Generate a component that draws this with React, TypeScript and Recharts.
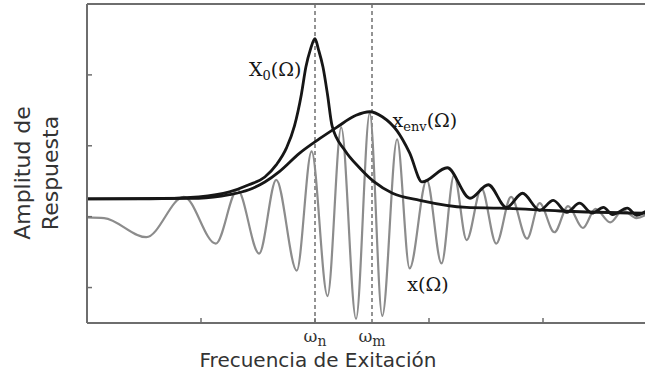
import { ComposedChart, Line, XAxis, YAxis, ReferenceLine, ReferenceDot, Label } from 'recharts';

// x(Ω) – respuesta total (curva gris)
const respOmega = [0, 0.15, 0.52, 0.85, 1.13, 1.32, 1.51, 1.66, 1.84, 1.97, 2.11, 2.23, 2.36, 2.48, 2.59, 2.72, 2.83, 2.98, 3.11, 3.22, 3.33, 3.46, 3.59, 3.72, 3.86, 3.97, 4.1, 4.22, 4.35, 4.46, 4.59, 4.7, 4.82, 4.94];
const respAmp = [0.99, 0.98, 0.71, 1.28, 0.62, 1.38, 0.48, 1.52, 0.24, 1.92, -0.12, 2.26, -0.44, 2.46, -0.4, 2.09, 0.27, 1.52, 0.34, 1.59, 0.67, 1.4, 0.62, 1.28, 0.69, 1.19, 0.78, 1.15, 0.84, 1.11, 0.92, 1.09, 0.98, 1.06];

// X0(Ω) – resonancia
const peakOmega = [0, 0.55, 0.98, 1.25, 1.42, 1.56, 1.66, 1.75, 1.82, 1.88, 1.92, 1.96, 2.0, 2.03, 2.07, 2.11, 2.15, 2.26, 2.39, 2.52, 2.68, 2.92, 3.33, 3.62, 4.15, 4.9, 5.0];
const peakAmp = [1.25, 1.25, 1.28, 1.35, 1.45, 1.56, 1.73, 1.97, 2.28, 2.72, 3.11, 3.36, 3.51, 3.36, 3.11, 2.72, 2.28, 1.94, 1.69, 1.49, 1.33, 1.23, 1.13, 1.12, 1.08, 1.05, 1.05];

// xenv(Ω) – envolvente
const envOmega = [0, 0.98, 1.25, 1.42, 1.56, 1.69, 1.86, 2.04, 2.19, 2.36, 2.48, 2.59, 2.72, 2.83, 2.94, 3.16, 3.36, 3.52, 3.68, 3.82, 3.97, 4.09, 4.21, 4.32, 4.43, 4.53, 4.61, 4.74, 4.82, 4.94, 5.0];
const envAmp = [1.25, 1.26, 1.31, 1.38, 1.49, 1.64, 1.89, 2.1, 2.26, 2.43, 2.48, 2.41, 2.21, 1.9, 1.49, 1.69, 1.26, 1.45, 1.13, 1.33, 1.09, 1.23, 1.06, 1.19, 1.05, 1.13, 1.03, 1.12, 1.02, 1.09, 1.06];

const xTicks = [1, 2, 3, 4];
const yTicks = [0, 1, 2, 3];
const markerOmega = [2.0, 2.5];
const markerSub = ['n', 'm'];

const toPoints = (w: number[], a: number[]) => w.map((v, i) => ({ w: v, a: a[i] }));
const respData = toPoints(respOmega, respAmp);
const peakData = toPoints(peakOmega, peakAmp);
const envData = toPoints(envOmega, envAmp);

const SERIF = '"DejaVu Serif", "Liberation Serif", serif';
const SANS = '"DejaVu Sans", sans-serif';
const AXIS = '#6e6e6e';
const INK = '#161616';
const noLabel = () => '';

const markerLabel = (i: number) => (props: any) => {
  const { x, y, height } = props.viewBox;
  return (
    <text x={x} y={y + height + 19} textAnchor="middle" fontFamily={SERIF} fontSize={17} fill="#333">
      ω
      <tspan dy={4} fontSize={14}>{markerSub[i]}</tspan>
    </text>
  );
};

const renderXTitle = () => (
  <text x={318} y={367} textAnchor="middle" fontFamily={SANS} fontSize={20} fill="#333">
    Frecuencia de Exitación
  </text>
);

const renderYTitle = () => (
  <g fontFamily={SANS} fontSize={22} fill="#333">
    <text x={30} y={173} textAnchor="middle" transform="rotate(-90 30 173)">Amplitud de</text>
    <text x={58} y={173} textAnchor="middle" transform="rotate(-90 58 173)">Respuesta</text>
  </g>
);

const curveLabel = (main: string, sub: string, anchor: 'start' | 'end') => (props: any) => {
  const { x, y } = props.viewBox;
  return (
    <text x={x} y={y} textAnchor={anchor} fontFamily={SERIF} fontSize={19} fill={INK}>
      {main}
      {sub && <tspan dy={4} fontSize={13}>{sub}</tspan>}
      <tspan dy={sub ? -4 : 0}>(Ω)</tspan>
    </text>
  );
};

export default function App() {
  return (
    <div style={{ position: 'absolute', left: 0, top: 0, width: 645, height: 376, overflow: 'hidden', background: '#fff' }}>
      <ComposedChart width={680} height={376} margin={{ top: 4, right: 23, left: 87, bottom: 53 }}>
        <XAxis
          xAxisId="main"
          type="number"
          dataKey="w"
          domain={[0, 5]}
          ticks={xTicks}
          height={1}
          mirror
          tickFormatter={noLabel}
          tickSize={5}
          axisLine={{ stroke: AXIS, strokeWidth: 2 }}
          tickLine={{ stroke: AXIS, strokeWidth: 1.5 }}
          allowDataOverflow
        >
          <Label content={renderXTitle} />
        </XAxis>
        <XAxis
          xAxisId="top"
          orientation="top"
          type="number"
          dataKey="w"
          domain={[0, 5]}
          ticks={xTicks}
          height={1}
          mirror
          tickFormatter={noLabel}
          tickSize={5}
          axisLine={{ stroke: AXIS, strokeWidth: 2 }}
          tickLine={{ stroke: AXIS, strokeWidth: 1.5 }}
        />
        <YAxis
          type="number"
          dataKey="a"
          domain={[-0.5, 4]}
          ticks={yTicks}
          width={1}
          mirror
          tickFormatter={noLabel}
          tickSize={5}
          axisLine={{ stroke: AXIS, strokeWidth: 2 }}
          tickLine={{ stroke: AXIS, strokeWidth: 1.5 }}
          allowDataOverflow
        >
          <Label content={renderYTitle} />
        </YAxis>

        {markerOmega.map((w, i) => (
          <ReferenceLine
            key={w}
            xAxisId="main"
            x={w}
            stroke="#707070"
            strokeWidth={1.5}
            strokeDasharray="4 3"
            label={markerLabel(i)}
          />
        ))}

        <Line
          xAxisId="main"
          data={respData}
          dataKey="a"
          type="monotone"
          stroke="#8c8c8c"
          strokeWidth={2.2}
          dot={false}
          isAnimationActive={false}
        />
        <Line
          xAxisId="main"
          data={envData}
          dataKey="a"
          type="monotone"
          stroke={INK}
          strokeWidth={2.8}
          dot={false}
          isAnimationActive={false}
        />
        <Line
          xAxisId="main"
          data={peakData}
          dataKey="a"
          type="monotone"
          stroke={INK}
          strokeWidth={2.8}
          dot={false}
          isAnimationActive={false}
        />

        <ReferenceDot xAxisId="main" x={1.88} y={2.98} r={0} fill="none" stroke="none" label={curveLabel('X', '0', 'end')} />
        <ReferenceDot xAxisId="main" x={2.68} y={2.27} r={0} fill="none" stroke="none" label={curveLabel('x', 'env', 'start')} />
        <ReferenceDot xAxisId="main" x={2.81} y={-0.05} r={0} fill="none" stroke="none" label={curveLabel('x', '', 'start')} />
      </ComposedChart>
    </div>
  );
}
